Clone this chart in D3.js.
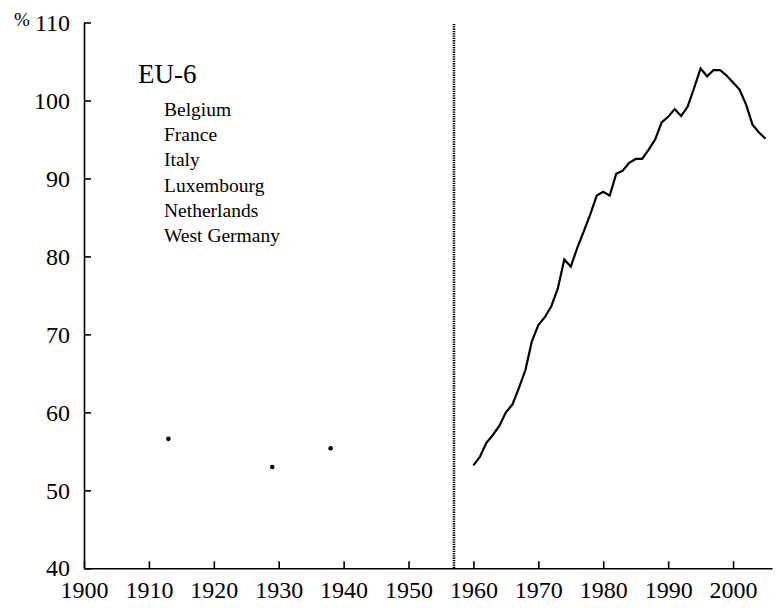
<!DOCTYPE html>
<html>
<head>
<meta charset="utf-8">
<script src="https://cdn.jsdelivr.net/npm/d3@7"></script>
<style>
  body { margin: 0; background: #fff; }
  svg { display: block; font-family: "Liberation Serif", "DejaVu Serif", serif; }
  .axis path, .axis line { stroke: #000; stroke-width: 1.6; }
  .axis text { font-size: 24px; fill: #000; font-family: "Liberation Serif", serif; }
</style>
</head>
<body>
<svg id="chart" width="780" height="608"></svg>
<script>
// early benchmark years (single points)
var earlyYears = [1913, 1929, 1938];
var earlyValues = [56.6, 53.0, 55.4];

// annual series 1960-2005
var years = d3.range(1960, 2006);
var values = [53.2, 54.3, 56.1, 57.1, 58.3, 60.0, 61.0, 63.1, 65.4, 69.1,
              71.2, 72.2, 73.6, 75.9, 79.6, 78.7, 81.1, 83.2, 85.4, 87.8,
              88.3, 87.8, 90.6, 91.0, 92.0, 92.5, 92.5, 93.7, 95.0, 97.2,
              97.9, 98.9, 98.0, 99.2, 101.6, 104.1, 103.1, 103.9, 103.9, 103.2,
              102.3, 101.4, 99.5, 96.9, 95.9, 95.1];

var xTicks = d3.range(1900, 2001, 10);
var yTicks = d3.range(40, 111, 10);
var breakYear = 1957;
var groupName = "EU-6";
var members = ["Belgium", "France", "Italy", "Luxembourg", "Netherlands", "West Germany"];

var svg = d3.select("#chart");

var x = d3.scaleLinear().domain([1900, 2006]).range([84, 772]);
var y = d3.scaleLinear().domain([40, 110]).range([568.3, 22.5]);

// axes, ticks pointing inward
svg.append("g")
    .attr("class", "axis axis-x")
    .attr("transform", `translate(0,${y(40)})`)
    .call(d3.axisBottom(x).tickValues(xTicks).tickFormat(d3.format("d"))
        .tickSizeInner(-7).tickSizeOuter(0).tickPadding(13));

svg.append("g")
    .attr("class", "axis axis-y")
    .attr("transform", `translate(${x(1900)},0)`)
    .call(d3.axisLeft(y).tickValues(yTicks)
        .tickSizeInner(-7).tickSizeOuter(0).tickPadding(14));

svg.selectAll(".axis").attr("font-family", null).attr("font-size", null);

svg.append("text")
    .attr("x", 14).attr("y", 26)
    .attr("font-size", 19)
    .text("%");

// dotted break line
svg.append("line")
    .attr("x1", x(breakYear)).attr("x2", x(breakYear))
    .attr("y1", 24).attr("y2", y(40))
    .attr("stroke", "#000")
    .attr("stroke-width", 2.6)
    .attr("stroke-dasharray", "1.3,1");

// early points
svg.selectAll(".early")
    .data(earlyYears)
    .enter()
    .append("circle")
    .attr("class", "early")
    .attr("cx", d => x(d))
    .attr("cy", (d, i) => y(earlyValues[i]))
    .attr("r", 2.3)
    .attr("fill", "#000");

// main series
var line = d3.line()
    .x((d, i) => x(years[i]))
    .y(d => y(d));

svg.append("path")
    .datum(values)
    .attr("d", line)
    .attr("fill", "none")
    .attr("stroke", "#000")
    .attr("stroke-width", 2.2)
    .attr("stroke-linejoin", "miter");

// label block
svg.append("text")
    .attr("x", 138).attr("y", 83)
    .attr("font-size", 27)
    .text(groupName);

svg.selectAll(".member")
    .data(members)
    .enter()
    .append("text")
    .attr("class", "member")
    .attr("x", 164)
    .attr("y", (d, i) => 116 + i * 25.2)
    .attr("font-size", 19.5)
    .text(d => d);
</script>
</body>
</html>
